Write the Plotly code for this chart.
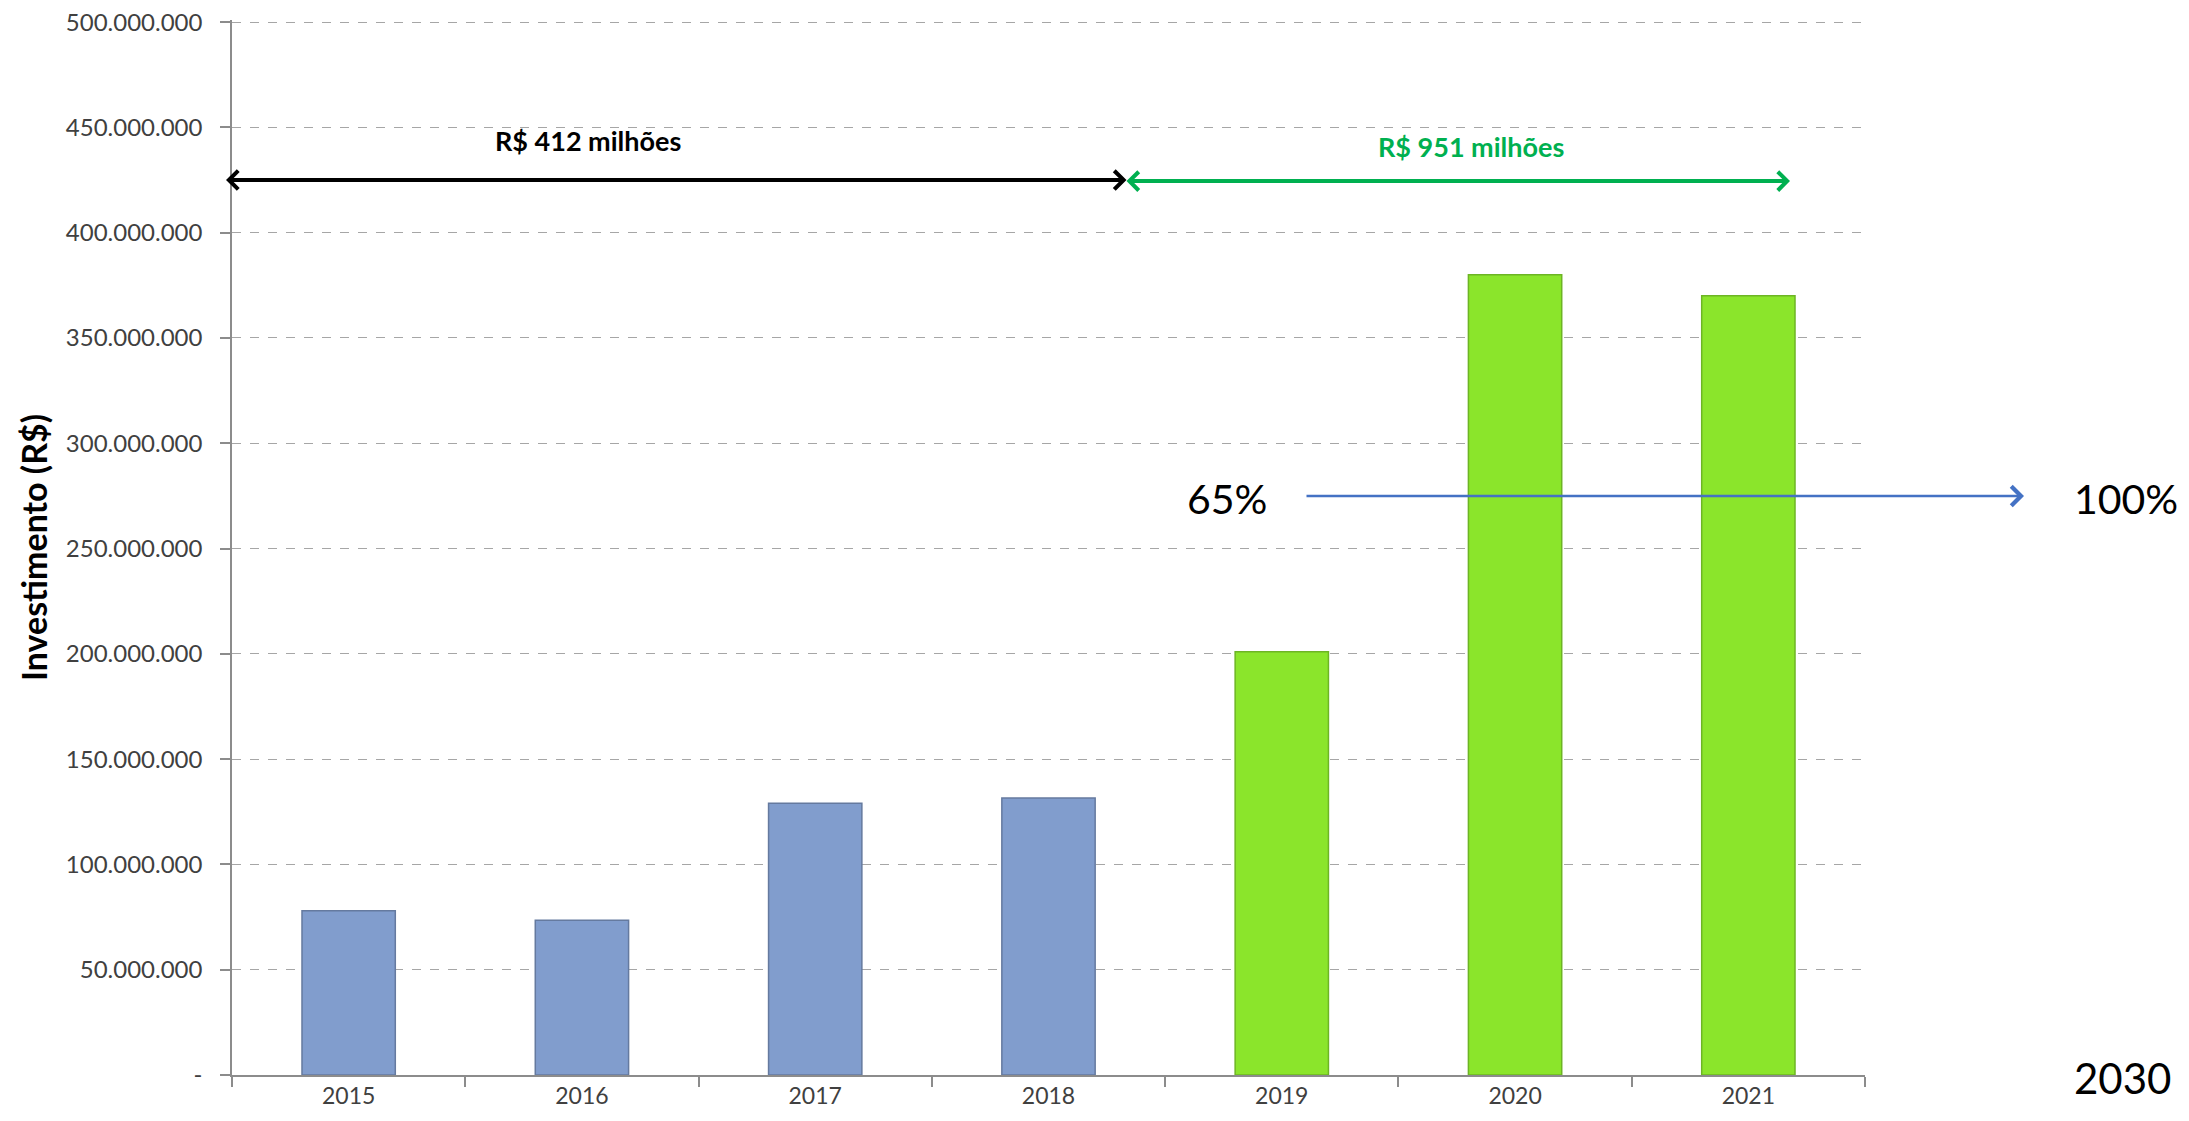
import plotly.graph_objects as go

years = ["2015", "2016", "2017", "2018", "2019", "2020", "2021"]
investimento = [78_000_000, 73_500_000, 129_000_000, 131_500_000,
                201_000_000, 380_000_000, 370_000_000]
periodo = ["antes", "antes", "antes", "antes", "depois", "depois", "depois"]

y_tickvals = [0, 50e6, 100e6, 150e6, 200e6, 250e6, 300e6, 350e6, 400e6, 450e6, 500e6]
y_ticktext = ["-", "50.000.000", "100.000.000", "150.000.000", "200.000.000",
              "250.000.000", "300.000.000", "350.000.000", "400.000.000",
              "450.000.000", "500.000.000"]

label_antes = "R$ 412 milhões"
label_depois = "R$ 951 milhões"
pct_inicio = "65%"
pct_fim = "100%"
ano_meta = "2030"
y_title = "Investimento (R$)"

fill_colors = {"antes": "#819DCD", "depois": "#8BE52B"}
line_colors = {"antes": "#657A9F", "depois": "#6DB524"}

fig = go.Figure()
fig.add_trace(go.Bar(
    x=years, y=investimento,
    marker=dict(color=[fill_colors[p] for p in periodo],
                line=dict(color=[line_colors[p] for p in periodo], width=1.5)),
    width=0.4,
    hoverinfo="x+y",
))

W, H = 2189, 1121
PL, PR, PT, PB = 232, 1865, 20, 1075  # plot area in page pixels (body margin removed)
fig.update_layout(
    width=W, height=H,
    margin=dict(l=PL, r=W - PR, t=PT, b=H - PB),
    plot_bgcolor="white", paper_bgcolor="white",
    showlegend=False,
    font=dict(family="Lato", color="#404040"),
)
fig.update_xaxes(
    type="category", range=[-0.5, 6.5], automargin=False,
    showline=True, linecolor="#8C8C8C", linewidth=1.5,
    ticks="outside", tickson="boundaries", ticklen=10, tickcolor="#8C8C8C", tickwidth=1.5,
    tickfont=dict(family="Lato", size=23, color="#404040"),
    showgrid=False,
)
fig.update_yaxes(
    range=[0, 501e6], automargin=False,
    tickvals=y_tickvals, ticktext=y_ticktext,
    ticklabeloverflow="allow",
    showline=True, linecolor="#8C8C8C", linewidth=1.5,
    ticks="outside", ticklen=10, tickcolor="#8C8C8C", tickwidth=1.5,
    tickfont=dict(family="Lato", size=24, color="#404040"),
    ticklabelstandoff=13,
    showgrid=True, gridcolor="#A6A6A6", griddash="dash", gridwidth=1,
    zeroline=False,
)

def px_x(p):
    return (p - PL) / (PR - PL)

def px_y(p):
    return (PB - p) / (PB - PT)

# black double arrow (2015-2018)
fig.add_annotation(xref="paper", yref="y", x=px_x(226), y=425e6,
                   ax=1128 - 226, ay=0, axref="pixel", ayref="pixel",
                   text="", showarrow=True, arrowside="end+start",
                   arrowhead=4, startarrowhead=4, arrowwidth=4, arrowsize=0.9,
                   startarrowsize=0.9, arrowcolor="#000000")
# green double arrow (2019-2021)
fig.add_annotation(xref="paper", yref="y", x=px_x(1790), y=424.5e6,
                   ax=1125 - 1790, ay=0, axref="pixel", ayref="pixel",
                   text="", showarrow=True, arrowside="end+start",
                   arrowhead=4, startarrowhead=4, arrowwidth=4, arrowsize=0.9,
                   startarrowsize=0.9, arrowcolor="#00B050")
# blue arrow
fig.add_annotation(xref="paper", yref="y", x=px_x(2024), y=275e6,
                   ax=1305 - 2024, ay=0, axref="pixel", ayref="pixel",
                   text="", showarrow=True, arrowhead=4, arrowwidth=2.5,
                   arrowsize=1.5, arrowcolor="#4472C4")

common = dict(showarrow=False, xanchor="center", yanchor="middle")
fig.add_annotation(xref="paper", yref="y", x=px_x(588), y=444e6, text=label_antes,
                   font=dict(family="Lato", size=27, color="#000000", weight="bold"), **common)
fig.add_annotation(xref="paper", yref="y", x=px_x(1471), y=441e6, text=label_depois,
                   font=dict(family="Lato", size=27, color="#00B050", weight="bold"), **common)
fig.add_annotation(xref="paper", yref="y", x=px_x(1227), y=274e6, text=pct_inicio,
                   font=dict(family="Lato", size=41, color="#000000"), **common)
fig.add_annotation(xref="paper", yref="y", x=px_x(2126), y=274e6, text=pct_fim,
                   font=dict(family="Lato", size=41, color="#000000"), **common)
fig.add_annotation(xref="paper", yref="paper", x=px_x(2122), y=px_y(1078), text=ano_meta,
                   font=dict(family="Lato", size=42, color="#000000"), **common)
fig.add_annotation(xref="paper", yref="paper", x=px_x(33), y=px_y(548), text=y_title,
                   textangle=-90,
                   font=dict(family="Lato", size=34, color="#000000", weight="bold"), **common)

fig.write_html("out.html",
               config={"displayModeBar": False},
               post_script="document.body.style.margin='0px';document.body.style.overflow='hidden';")
